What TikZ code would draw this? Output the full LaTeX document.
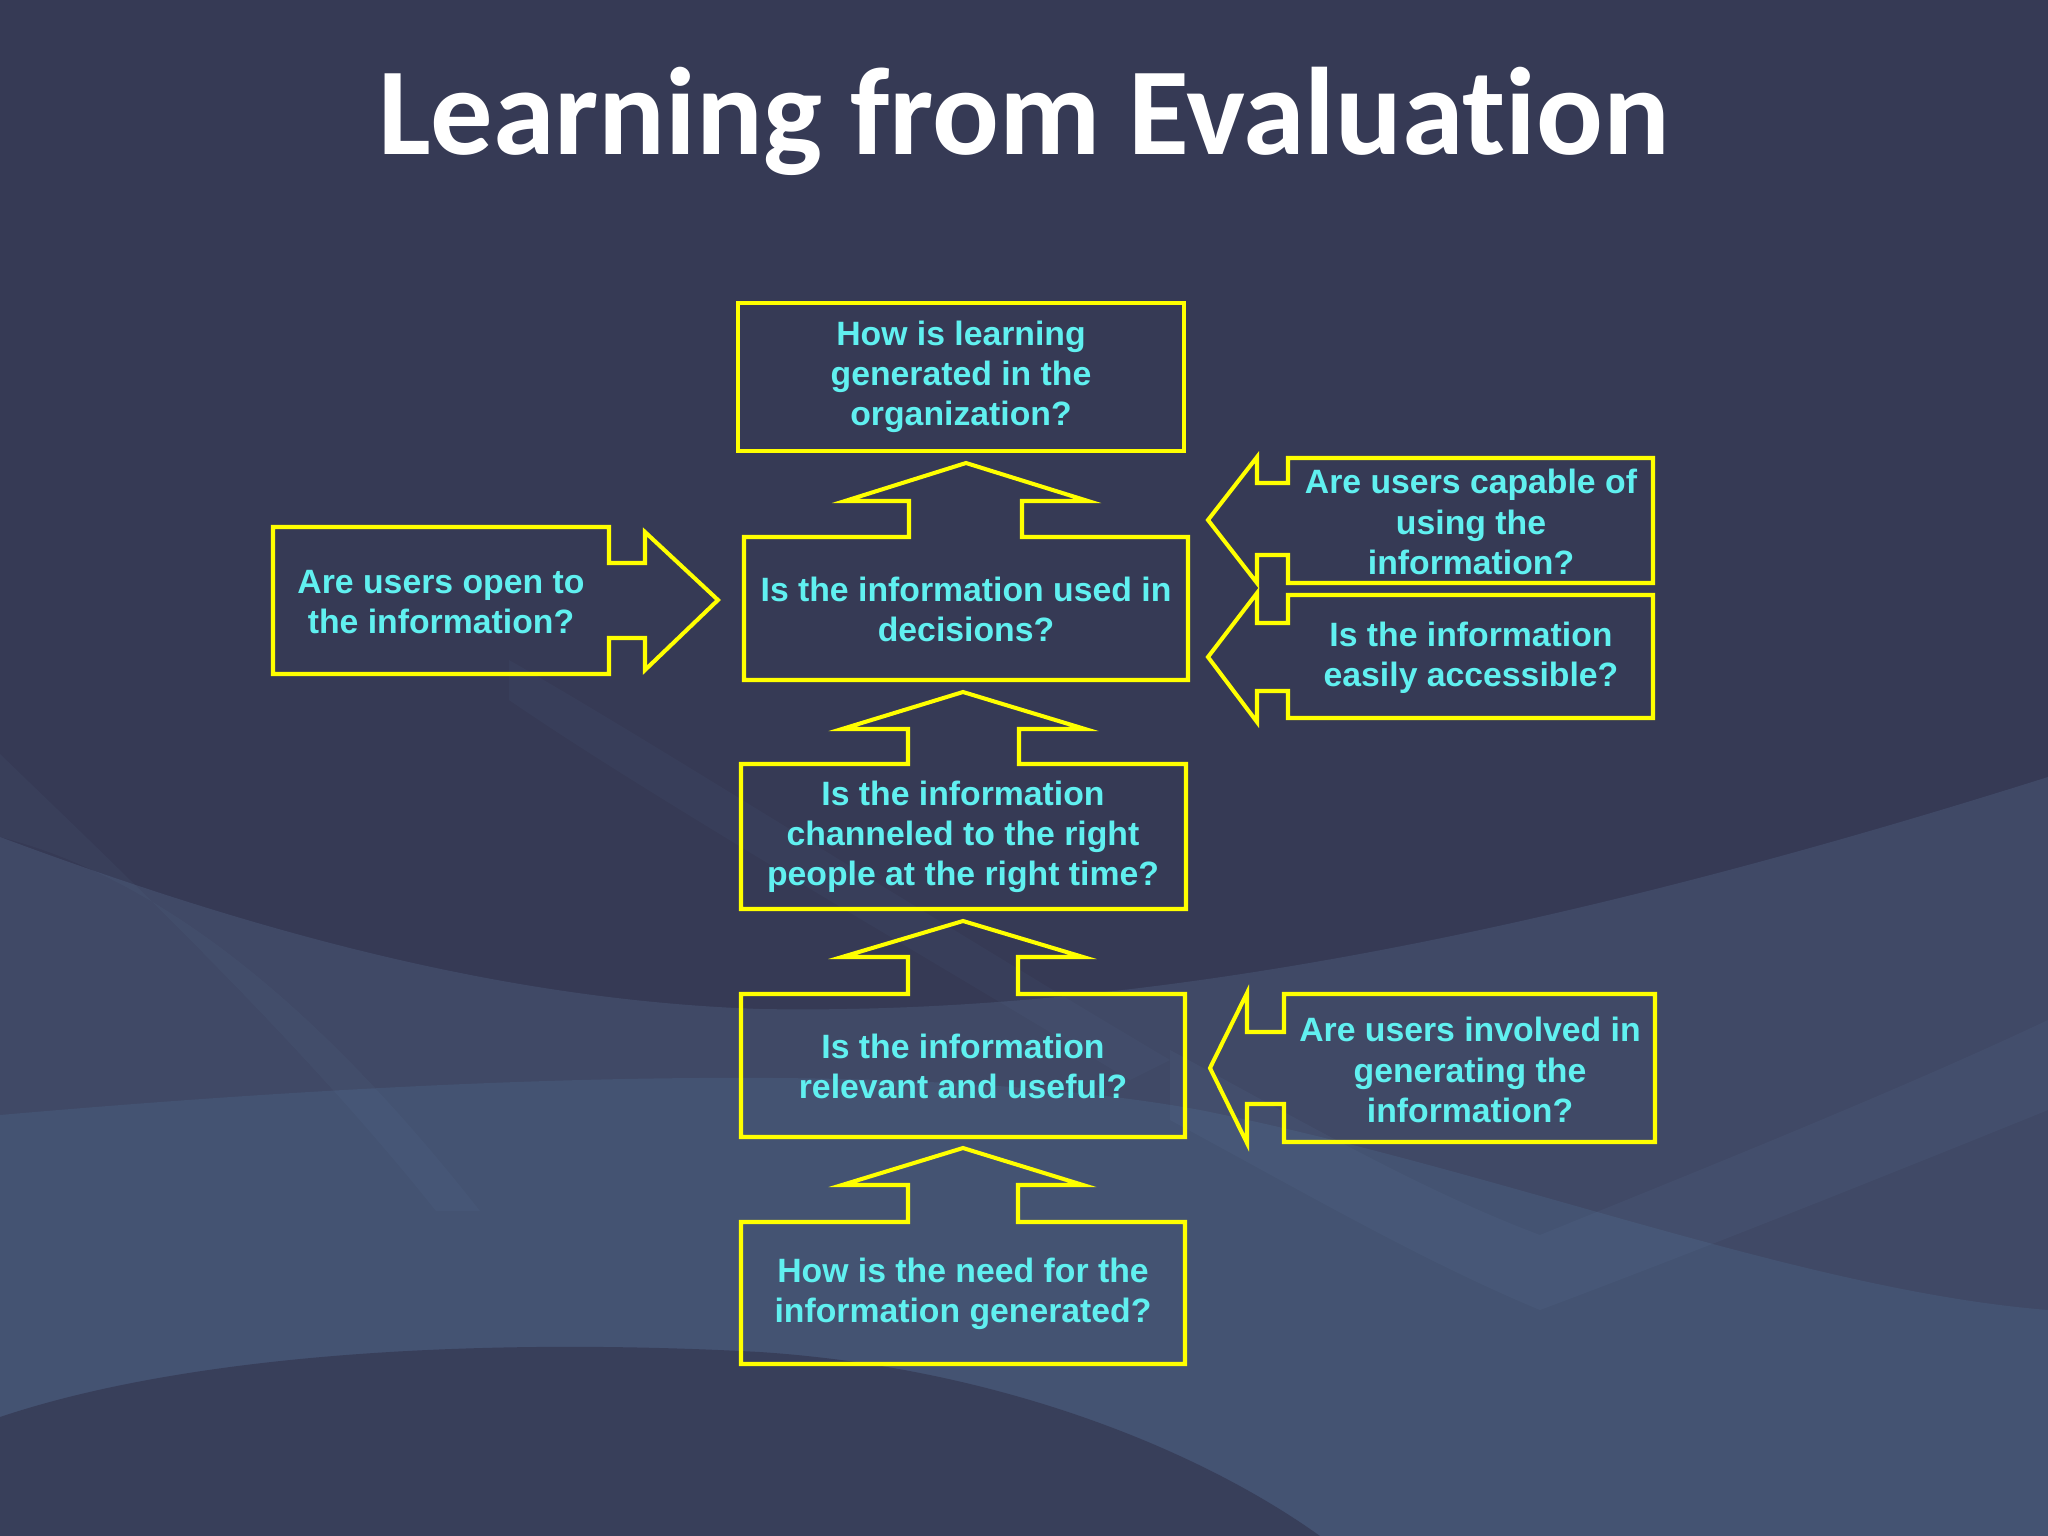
\documentclass[tikz,border=0pt]{standalone}
\usepackage{fontspec}
\setmainfont{Liberation Sans}
\newfontfamily\titlefont[Ligatures=NoCommon]{Carlito}
\definecolor{slidebg}{RGB}{54,58,85}
\definecolor{wavelight}{RGB}{112,146,184}
\definecolor{waveblue}{RGB}{96,150,190}
\definecolor{boxline}{RGB}{255,255,0}
\definecolor{qtext}{RGB}{96,240,240}
\tikzset{
  callout/.style={draw=boxline, line width=1.15pt, line join=miter},
  question/.style={text=qtext, font=\bfseries\fontsize{9.6}{11.4}\selectfont, align=center, inner sep=0pt},
  wave/.style={fill=wavelight, opacity=#1}
}
\begin{document}
\begin{tikzpicture}[x=0.01cm, y=-0.01cm]
    % slide background
    \fill[slidebg] (0,0) rectangle (2048,1536);
    \useasboundingbox (0,0) rectangle (2048,1536);

    % soft waves, lower half
    \fill[wave=0.18] (0,837) .. controls (250,930) and (500,1000) .. (760,1009)
        .. controls (1100,1015) and (1500,950) .. (2048,777) -- (2048,1536) -- (0,1536) -- cycle;
    \fill[waveblue, opacity=0.14] (0,1115) .. controls (400,1080) and (900,1055) .. (1200,1110)
        .. controls (1500,1170) and (1800,1290) .. (2048,1310) -- (2048,1536) -- (0,1536) -- cycle;
    \fill[wave=0.06] (0,754) .. controls (120,870) and (300,1040) .. (436,1211)
        -- (480,1211) .. controls (330,1020) and (170,880) .. (0,837) -- cycle;
    \fill[wave=0.05] (509,660) .. controls (650,740) and (900,900) .. (1170,1060)
        -- (1130,1080) .. controls (880,930) and (640,790) .. (509,700) -- cycle;
    \fill[wave=0.08] (1170,1050) .. controls (1300,1120) and (1420,1190) .. (1540,1235)
        .. controls (1700,1170) and (1900,1090) .. (2048,1020) -- (2048,1110)
        .. controls (1900,1170) and (1700,1250) .. (1540,1310)
        .. controls (1420,1260) and (1300,1190) .. (1170,1120) -- cycle;
    \fill[slidebg, opacity=0.8] (0,1417) .. controls (200,1350) and (500,1338) .. (760,1352)
        .. controls (1000,1368) and (1200,1450) .. (1320,1536) -- (0,1536) -- cycle;

    % title
    \node[text=white, anchor=base, font=\titlefont\bfseries\fontsize{35.4}{40}\selectfont]
        (title) at (1024,154) {Learning from Evaluation};

    % top box
    \draw[callout] (738,303) rectangle (1184,451);
    \node[question] (learning) at (961,377) {How is learning\\generated in the\\organization?};

    % centre column, up arrow callouts
    \draw[callout] (744,537) -- (909,537) -- (909,501) -- (845,501) -- (966,463) -- (1088,501)
        -- (1022,501) -- (1022,537) -- (1188,537) -- (1188,680) -- (744,680) -- cycle;
    \node[question] (decisions) at (966,609) {Is the information used in\\decisions?};

    \draw[callout] (741,764) -- (908,764) -- (908,729) -- (842,729) -- (963,692) -- (1085,729)
        -- (1019,729) -- (1019,764) -- (1186,764) -- (1186,909) -- (741,909) -- cycle;
    \node[question] (channeled) at (963,837) {Is the information\\channeled to the right\\people at the right time?};

    \draw[callout] (741,994) -- (908,994) -- (908,957) -- (842,957) -- (963,921) -- (1083,957)
        -- (1018,957) -- (1018,994) -- (1185,994) -- (1185,1137) -- (741,1137) -- cycle;
    \node[question] (relevant) at (963,1066) {Is the information\\relevant and useful?};

    \draw[callout] (741,1222) -- (908,1222) -- (908,1185) -- (842,1185) -- (963,1148) -- (1083,1185)
        -- (1018,1185) -- (1018,1222) -- (1185,1222) -- (1185,1364) -- (741,1364) -- cycle;
    \node[question] (need) at (963,1294) {How is the need for the\\information generated?};

    % left side, right arrow callout
    \draw[callout] (273,527) -- (609,527) -- (609,563) -- (645,563) -- (645,532) -- (718,600)
        -- (645,670) -- (645,638) -- (609,638) -- (609,674) -- (273,674) -- cycle;
    \node[question] (open) at (441,602) {Are users open to\\the information?};

    % right side, left arrow callouts
    \draw[callout] (1653,458) -- (1288,458) -- (1288,483) -- (1257,483) -- (1257,457) -- (1208,520)
        -- (1257,583) -- (1257,555) -- (1288,555) -- (1288,583) -- (1653,583) -- cycle;
    \node[question] (capable) at (1471,522) {Are users capable of\\using the\\information?};

    \draw[callout] (1653,595) -- (1288,595) -- (1288,623) -- (1257,623) -- (1257,593) -- (1208,657)
        -- (1257,722) -- (1257,691) -- (1288,691) -- (1288,718) -- (1653,718) -- cycle;
    \node[question] (accessible) at (1471,658) {Is the information\\easily accessible?};

    \draw[callout] (1655,994) -- (1284,994) -- (1284,1032) -- (1247,1032) -- (1247,993) -- (1210,1068)
        -- (1247,1143) -- (1247,1104) -- (1284,1104) -- (1284,1142) -- (1655,1142) -- cycle;
    \node[question] (involved) at (1470,1070) {Are users involved in\\generating the\\information?};
\end{tikzpicture}
\end{document}
